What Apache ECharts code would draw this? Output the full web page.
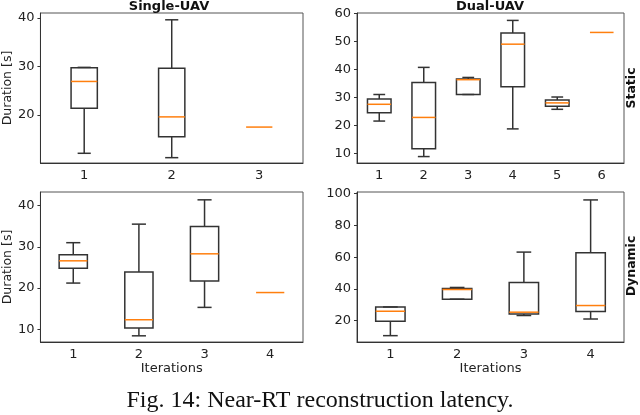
<!DOCTYPE html>
<html>
<head>
<meta charset="utf-8">
<script src="https://cdn.jsdelivr.net/npm/echarts@6/dist/echarts.min.js"></script>
<style>
  html, body { margin: 0; padding: 0; background: #fff; }
  #main { width: 640px; height: 415px; }
</style>
</head>
<body>
<div id="main"></div>
<script>
// box stats: [min, q1, median, q3, max]
const singleStaticCats = ['1', '2', '3']
const singleStaticBoxes = [
  [12.1, 21.4, 26.9, 29.7, 29.8],
  [11.2, 15.5, 19.6, 29.6, 39.6],
  [17.5, 17.5, 17.5, 17.5, 17.5]
]
const dualStaticCats = ['1', '2', '3', '4', '5', '6']
const dualStaticBoxes = [
  [21.6, 24.6, 27.6, 29.5, 31.1],
  [8.9, 11.7, 22.9, 35.4, 40.8],
  [31.1, 31.1, 36.4, 36.6, 37.2],
  [18.8, 33.9, 49.1, 53.1, 57.6],
  [25.8, 26.9, 28.1, 29.1, 30.2],
  [53.3, 53.3, 53.3, 53.3, 53.3]
]
const dualStaticOutliers = [['3', 15.3]]
const singleDynamicCats = ['1', '2', '3', '4']
const singleDynamicBoxes = [
  [21.2, 24.8, 26.6, 28.1, 31.0],
  [8.4, 10.3, 12.3, 23.9, 35.5],
  [15.3, 21.7, 28.3, 34.9, 41.4],
  [18.9, 18.9, 18.9, 18.9, 18.9]
]
const dualDynamicCats = ['1', '2', '3', '4']
const dualDynamicBoxes = [
  [10.5, 19.6, 25.9, 28.6, 28.6],
  [33.5, 33.5, 39.6, 40.2, 40.9],
  [23.2, 24.2, 25.3, 44.0, 63.2],
  [21.0, 25.7, 29.5, 62.8, 96.1]
]
const dualDynamicOutliers = [['2', 17.5]]

const LINE = '#333'
const MEDIAN = '#ff7f0e'
const FONT = 'DejaVu Sans'

// matplotlib-like box: caps are half the box width, median in orange
function boxRenderer(frac) {
  return function (params, api) {
    const x = api.value(0)
    const band = api.size([1, 0])[0]
    const w = band * frac
    const pMin = api.coord([x, api.value(1)])
    const pQ1 = api.coord([x, api.value(2)])
    const pMed = api.coord([x, api.value(3)])
    const pQ3 = api.coord([x, api.value(4)])
    const pMax = api.coord([x, api.value(5)])
    const cx = pMed[0]
    const ls = { stroke: LINE, lineWidth: 1.5 }
    const flat = api.value(1) === api.value(5)
    const children = []
    if (!flat) {
      children.push(
        { type: 'line', shape: { x1: cx, y1: pMin[1], x2: cx, y2: pQ1[1] }, style: ls },
        { type: 'line', shape: { x1: cx, y1: pQ3[1], x2: cx, y2: pMax[1] }, style: ls },
        { type: 'line', shape: { x1: cx - w / 4, y1: pMin[1], x2: cx + w / 4, y2: pMin[1] }, style: ls },
        { type: 'line', shape: { x1: cx - w / 4, y1: pMax[1], x2: cx + w / 4, y2: pMax[1] }, style: ls },
        { type: 'rect', shape: { x: cx - w / 2, y: pQ3[1], width: w, height: pQ1[1] - pQ3[1] },
          style: { fill: 'none', stroke: LINE, lineWidth: 1.5 } }
      )
    }
    children.push({ type: 'line', shape: { x1: cx - w / 2, y1: pMed[1], x2: cx + w / 2, y2: pMed[1] },
      style: { stroke: MEDIAN, lineWidth: 1.5 } })
    return { type: 'group', children: children }
  }
}

function toRows(cats, boxes) {
  return boxes.map((b, i) => [cats[i]].concat(b))
}

const grids = [
  { left: 36, top: 13, width: 267, height: 150 },
  { left: 357, top: 13, width: 267, height: 150 },
  { left: 36, top: 192, width: 267, height: 150 },
  { left: 357, top: 192, width: 267, height: 150 }
]

function xAxisFor(i, cats, name) {
  return {
    type: 'category', gridIndex: i, data: cats, boundaryGap: true,
    name: name || '', nameLocation: 'middle', nameGap: 18,
    nameTextStyle: { fontFamily: FONT, fontSize: 13, color: '#222' },
    axisLine: { lineStyle: { color: LINE, width: 1 } },
    axisTick: { alignWithLabel: true, length: 3, lineStyle: { color: LINE } },
    axisLabel: { fontFamily: FONT, fontSize: 13, color: '#222', margin: 6 },
    splitLine: { show: false }
  }
}

function yAxisFor(i, min, max, split, name) {
  return {
    type: 'value', gridIndex: i, min: min, max: max, splitNumber: split,
    name: name || '', nameLocation: 'middle', nameGap: 23,
    nameTextStyle: { fontFamily: FONT, fontSize: 12.5, color: '#222' },
    axisLine: { show: true, lineStyle: { color: LINE, width: 1 } },
    axisTick: { show: true, length: 3, lineStyle: { color: LINE } },
    axisLabel: { fontFamily: FONT, fontSize: 13, color: '#222', margin: 6,
      showMinLabel: false, showMaxLabel: false },
    splitLine: { show: false }
  }
}

const chart = echarts.init(document.getElementById('main'), null, { renderer: 'canvas' })

const option = {
  animation: false,
  backgroundColor: '#fff',
  title: [
    { text: 'Single-UAV', left: 169, top: 0, padding: 0, textAlign: 'center',
      textStyle: { fontFamily: FONT, fontSize: 13, fontWeight: 'bold', color: '#111' } },
    { text: 'Dual-UAV', left: 490, top: 0, padding: 0, textAlign: 'center',
      textStyle: { fontFamily: FONT, fontSize: 13, fontWeight: 'bold', color: '#111' } }
  ],
  grid: grids.map(g => Object.assign({ show: true, borderColor: '#555', borderWidth: 1 }, g)),
  xAxis: [
    xAxisFor(0, singleStaticCats),
    xAxisFor(1, dualStaticCats),
    xAxisFor(2, singleDynamicCats, 'Iterations'),
    xAxisFor(3, dualDynamicCats, 'Iterations')
  ],
  yAxis: [
    yAxisFor(0, 10.1, 41.0, 3, 'Duration [s]'),
    yAxisFor(1, 6.6, 60.25, 5),
    yAxisFor(2, 6.9, 43.3, 3, 'Duration [s]'),
    yAxisFor(3, 6.5, 101.1, 5)
  ],
  series: [
    { type: 'custom', xAxisIndex: 0, yAxisIndex: 0, renderItem: boxRenderer(0.30),
      encode: { x: 0, y: [1, 2, 3, 4, 5] }, data: toRows(singleStaticCats, singleStaticBoxes) },
    { type: 'custom', xAxisIndex: 1, yAxisIndex: 1, renderItem: boxRenderer(0.53),
      encode: { x: 0, y: [1, 2, 3, 4, 5] }, data: toRows(dualStaticCats, dualStaticBoxes) },
    { type: 'custom', xAxisIndex: 2, yAxisIndex: 2, renderItem: boxRenderer(0.43),
      encode: { x: 0, y: [1, 2, 3, 4, 5] }, data: toRows(singleDynamicCats, singleDynamicBoxes) },
    { type: 'custom', xAxisIndex: 3, yAxisIndex: 3, renderItem: boxRenderer(0.44),
      encode: { x: 0, y: [1, 2, 3, 4, 5] }, data: toRows(dualDynamicCats, dualDynamicBoxes) },
    { type: 'scatter', xAxisIndex: 1, yAxisIndex: 1, symbol: 'emptyCircle', symbolSize: 5,
      itemStyle: { color: '#fff', borderColor: LINE, borderWidth: 1 }, data: dualStaticOutliers },
    { type: 'scatter', xAxisIndex: 3, yAxisIndex: 3, symbol: 'emptyCircle', symbolSize: 5,
      itemStyle: { color: '#fff', borderColor: LINE, borderWidth: 1 }, data: dualDynamicOutliers }
  ],
  graphic: [
    { type: 'text', x: 632, y: 88, rotation: Math.PI / 2,
      style: { text: 'Static', font: 'bold 12.5px "DejaVu Sans"', fill: '#111',
        textAlign: 'center', textVerticalAlign: 'middle' } },
    { type: 'text', x: 632, y: 266, rotation: Math.PI / 2,
      style: { text: 'Dynamic', font: 'bold 12.5px "DejaVu Sans"', fill: '#111',
        textAlign: 'center', textVerticalAlign: 'middle' } },
    { type: 'text', x: 320, y: 401,
      style: { text: 'Fig. 14: Near-RT reconstruction latency.', font: '24px "Liberation Serif"',
        fill: '#111', textAlign: 'center', textVerticalAlign: 'middle' } }
  ]
}

chart.setOption(option)
</script>
</body>
</html>
